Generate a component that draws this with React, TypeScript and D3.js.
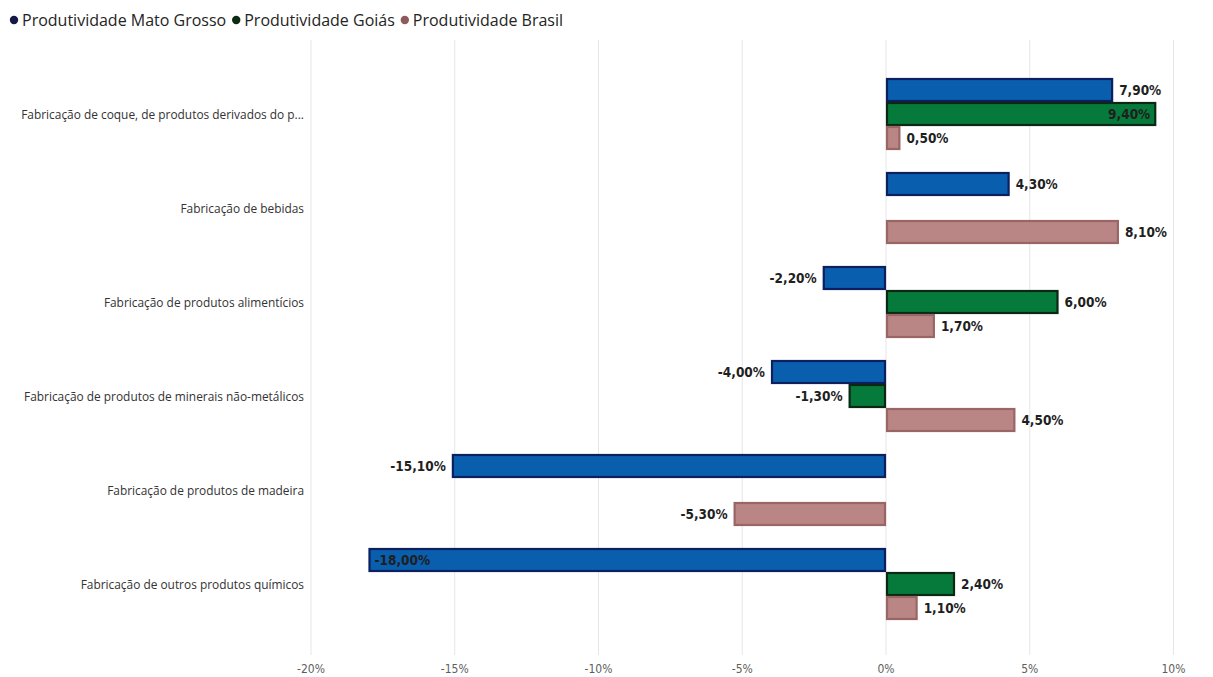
import * as d3 from 'd3'
import { useEffect, useRef } from 'react'

const categories = [
  'Fabricação de coque, de produtos derivados do p...',
  'Fabricação de bebidas',
  'Fabricação de produtos alimentícios',
  'Fabricação de produtos de minerais não-metálicos',
  'Fabricação de produtos de madeira',
  'Fabricação de outros produtos químicos',
]

const seriesNames = ['Produtividade Mato Grosso', 'Produtividade Goiás', 'Produtividade Brasil']
const matoGrosso = [7.9, 4.3, -2.2, -4.0, -15.1, -18.0]
const goias: (number | null)[] = [9.4, null, 6.0, -1.3, null, 2.4]
const brasil = [0.5, 8.1, 1.7, 4.5, -5.3, 1.1]
const xTicks = [-20, -15, -10, -5, 0, 5, 10]

const fills = ['#0a5eae', '#067a3a', '#b98585']
const strokes = ['#0c1f5e', '#0b2815', '#9a6565']
const dots = ['#141a45', '#0e2a15', '#8e5a5a']

const W = 1213
const H = 677

const fmt = (v: number) => v.toFixed(2).replace('.', ',') + '%'

const App = () => {
  const ref = useRef<SVGSVGElement>(null)

  useEffect(() => {
    const svg = d3.select(ref.current)
    svg.selectAll('*').remove()

    const x = d3.scaleLinear().domain([-20, 10]).range([311, 1173.5])
    const y = d3.scaleBand<string>().domain(categories).range([67, 631]).paddingInner(0.234).paddingOuter(0.117)
    const sub = d3.scaleBand<number>().domain([0, 1, 2]).range([0, y.bandwidth()])

    // legend
    const legend = svg.append('g').attr('font-family', 'Open Sans, sans-serif').attr('font-size', 16)
    let lx = 14
    seriesNames.forEach((name, i) => {
      legend.append('circle').attr('cx', lx).attr('cy', 20).attr('r', 4.2).attr('fill', dots[i])
      const t = legend.append('text').attr('x', lx + 8).attr('y', 26).attr('fill', '#252423').text(name)
      const w = (t.node() as SVGTextElement).getComputedTextLength()
      lx += 8 + w + 10
    })

    // gridlines
    svg.append('g')
      .selectAll('line')
      .data(xTicks)
      .join('line')
      .attr('x1', d => x(d)).attr('x2', d => x(d))
      .attr('y1', 40).attr('y2', 655)
      .attr('stroke', '#e6e6e6').attr('stroke-width', 1)

    // x tick labels
    svg.append('g')
      .selectAll('text')
      .data(xTicks)
      .join('text')
      .attr('x', d => x(d)).attr('y', 673)
      .attr('text-anchor', 'middle')
      .attr('font-family', 'DejaVu Sans Condensed, sans-serif')
      .attr('font-size', 12)
      .attr('fill', '#605e5c')
      .text(d => d + '%')

    // category labels
    svg.append('g')
      .selectAll('text')
      .data(categories)
      .join('text')
      .attr('x', 304)
      .attr('y', d => (y(d) as number) + y.bandwidth() / 2 + 4.5)
      .attr('text-anchor', 'end')
      .attr('font-family', 'Open Sans, sans-serif')
      .attr('font-size', 11.9)
      .attr('fill', '#333')
      .text(d => d)

    const allSeries = [matoGrosso, goias, brasil]
    const x0 = x(0)
    const [rMin, rMax] = x.range()

    allSeries.forEach((vals, si) => {
      vals.forEach((v, ci) => {
        if (v === null) return
        const y0 = (y(categories[ci]) as number) + (sub(si) as number)
        const h = sub.bandwidth()
        const xa = Math.min(x(v), x0)
        const w = Math.abs(x(v) - x0)
        svg.append('rect')
          .attr('x', xa + 1).attr('y', y0 + 1)
          .attr('width', Math.max(w - 2, 0)).attr('height', h - 2)
          .attr('fill', fills[si])
          .attr('stroke', strokes[si]).attr('stroke-width', 2.2)

        const label = fmt(v)
        const t = svg.append('text')
          .attr('y', y0 + h / 2 + 5)
          .attr('font-family', 'DejaVu Sans Condensed, sans-serif')
          .attr('font-size', 13.5)
          .attr('font-weight', 'bold')
          .attr('fill', '#1f1f1f')
          .text(label)
        const tw = (t.node() as SVGTextElement).getComputedTextLength()
        if (v >= 0) {
          if (x(v) + 6 + tw > rMax) t.attr('x', x(v) - 6).attr('text-anchor', 'end')
          else t.attr('x', x(v) + 6).attr('text-anchor', 'start')
        } else {
          if (x(v) - 6 - tw < rMin) t.attr('x', x(v) + 6).attr('text-anchor', 'start')
          else t.attr('x', x(v) - 6).attr('text-anchor', 'end')
        }
      })
    })
  }, [])

  return (
    <svg ref={ref} width={W} height={H} style={{ position: 'absolute', left: 0, top: 0, background: '#fff' }} />
  )
}

export default App
